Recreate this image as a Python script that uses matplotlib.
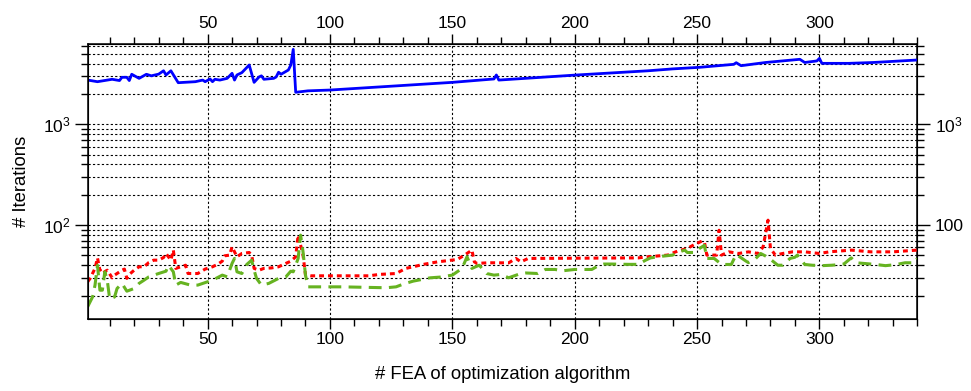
import matplotlib
matplotlib.use("Agg")
import matplotlib.pyplot as plt
from matplotlib.ticker import MultipleLocator, LogLocator, NullFormatter, FixedLocator

plt.rcParams['font.family'] = ['Liberation Sans', 'DejaVu Sans']
plt.rcParams['mathtext.default'] = 'regular'

# ---- data ----
blue_x = [1, 5, 11, 14, 15, 17, 18, 19, 22, 25, 27, 30, 32, 33, 35, 38, 45, 48, 49, 51, 52, 53, 55, 58,
          60, 61, 62, 64, 67, 69, 71, 72, 73, 77, 78, 79, 80, 83, 84, 85, 86, 91, 100, 150, 167, 168,
          169, 200, 230, 240, 251, 265, 266, 268, 278, 292, 294, 299, 300, 301, 312, 322, 340]
blue_y = [2750, 2650, 2800, 2720, 2930, 2930, 2720, 3140, 2860, 3140, 3030, 3150, 3400, 3090, 3400,
          2590, 2650, 2750, 2650, 2820, 2650, 2800, 2750, 2860, 3210, 2750, 3090, 3260, 3880, 2610,
          2950, 3030, 2800, 2860, 2950, 3290, 3140, 3460, 3880, 5550, 2080, 2150, 2190, 2610, 2820,
          3090, 2750, 3080, 3400, 3550, 3680, 3940, 4090, 3820, 4110, 4420, 4110, 4260, 4520, 4030,
          4030, 4110, 4350]

red_x = [1, 2, 4, 5, 6, 7, 8, 9, 11, 12, 13, 15, 16, 17, 18, 20, 22, 24, 26, 28, 30, 32, 33, 35, 36,
         37, 39, 41, 42, 44, 46, 49, 52, 54, 56, 57, 59, 60, 62, 64, 67, 68, 69, 71, 73, 76, 79, 82,
         84, 86, 87, 89, 90, 92, 116, 120, 127, 131, 134, 138, 144, 152, 155, 158, 159, 160, 165,
         173, 176, 178, 181, 226, 230, 238, 242, 246, 249, 252, 253, 254, 258, 259, 260, 263, 267,
         271, 275, 277, 279, 280, 282, 285, 289, 294, 300, 304, 313, 321, 330, 340]
red_y = [27.4, 29.6, 37.2, 47.3, 35.7, 37.2, 34.4, 35.7, 30.0, 31.9, 33.1, 35.7, 36.6, 29.6, 32.4,
         35.7, 38.6, 38.6, 42.6, 44.9, 44.9, 47.7, 52.3, 44.9, 56.5, 37.2, 38.6, 40.0, 33.1, 33.1,
         33.1, 36.6, 38.6, 40.7, 43.9, 49.6, 50.4, 60.9, 48.5, 52.3, 53.5, 50.4, 37.2, 35.7, 37.2,
         37.6, 38.6, 41.7, 43.9, 48.5, 79.6, 50.4, 31.9, 31.4, 31.4, 32.4, 33.1, 37.2, 38.6, 40.7,
         43.2, 45.6, 50.4, 56.5, 43.2, 41.7, 42.3, 42.2, 46.7, 43.2, 46.7, 47.3, 48.5, 50.4, 55.2,
         58.7, 64.3, 69.4, 68.0, 50.4, 50.4, 89.0, 50.4, 54.3, 52.3, 54.3, 52.3, 60.9, 112.0, 58.7,
         50.4, 52.3, 54.3, 54.3, 52.3, 54.3, 56.5, 54.3, 54.3, 56.5]

green_x = [1, 3, 4, 5, 6, 7, 8, 9, 10, 12, 13, 15, 17, 20, 22, 24, 26, 30, 33, 34, 36, 37, 39, 43, 46,
           50, 52, 56, 58, 60, 61, 62, 64, 66, 68, 69, 70, 72, 75, 79, 82, 84, 85, 87, 88, 89, 90, 91,
           105, 123, 127, 130, 134, 141, 145, 150, 154, 156, 158, 161, 164, 167, 170, 173, 178, 180,
           185, 188, 192, 195, 200, 207, 210, 212, 215, 222, 226, 229, 231, 236, 240, 242, 245, 246,
           249, 251, 253, 254, 257, 260, 264, 266, 270, 271, 274, 276, 279, 283, 285, 288, 290, 291,
           294, 297, 301, 305, 308, 310, 313, 315, 319, 323, 327, 331, 335, 339, 340]
green_y = [15.5, 19.4, 25.4, 40.0, 22.6, 22.6, 34.4, 28.4, 18.4, 19.4, 23.5, 26.4, 22.1, 23.5, 26.4,
           28.4, 30.7, 33.1, 34.9, 40.0, 34.4, 25.4, 27.0, 25.4, 25.4, 27.4, 28.4, 31.9, 30.7, 41.7,
           46.7, 34.4, 33.1, 40.7, 44.9, 35.7, 29.6, 25.4, 26.4, 29.6, 30.7, 34.9, 34.4, 46.7, 79.6,
           54.3, 31.9, 24.4, 24.4, 23.9, 24.4, 26.0, 27.8, 30.0, 30.5, 31.9, 37.2, 48.5, 37.2, 40.0,
           33.1, 31.9, 32.4, 30.0, 33.1, 33.5, 33.1, 36.3, 36.3, 35.2, 36.3, 36.3, 40.0, 41.1, 41.1,
           40.8, 40.8, 44.9, 47.3, 49.2, 50.4, 53.5, 56.5, 53.5, 53.5, 58.7, 63.0, 46.7, 46.7, 40.7,
           40.7, 51.2, 43.9, 42.5, 46.7, 52.3, 47.9, 40.0, 40.0, 46.7, 48.0, 50.4, 40.7, 40.0, 39.6,
           40.0, 40.5, 41.1, 47.3, 42.3, 41.5, 40.7, 39.6, 40.5, 42.3, 42.3, 46.7]

x_limits = [1, 340]
y_limits = [11.7, 6340]
x_label = "# FEA of optimization algorithm"
y_label = "# Iterations"

# ---- figure ----
fig = plt.figure(figsize=(9.71, 3.91), dpi=100)
ax = fig.add_axes([0.0903, 0.1841, 0.8544, 0.7046])

ax.plot(blue_x, blue_y, color=(0, 0, 1), lw=2.0, zorder=3)
ax.plot(red_x, red_y, color=(1, 0, 0), lw=2.2, dashes=(1.6, 1.3), zorder=3)
ax.plot(green_x, green_y, color=(0.40, 0.70, 0.13), lw=2.2, dashes=(4.2, 2.4), zorder=3)

ax.set_yscale('log')
ax.set_xlim(x_limits)
ax.set_ylim(y_limits)

ax.xaxis.set_major_locator(MultipleLocator(50))
ax.xaxis.set_minor_locator(MultipleLocator(10))
ax.yaxis.set_major_locator(FixedLocator([100, 1000]))
ax.set_yticklabels(['$10^2$', '$10^3$'])
ax.yaxis.set_minor_locator(LogLocator(base=10, subs=[2, 3, 4, 5, 6, 7, 8, 9], numticks=20))
ax.yaxis.set_minor_formatter(NullFormatter())

ax.grid(which='major', axis='x', color='k', lw=0.8, dashes=(2, 2))
ax.grid(which='both', axis='y', color='k', lw=0.8, dashes=(2, 2))
ax.set_axisbelow(True)

ax.tick_params(which='both', direction='out', top=True, labeltop=True, labelsize=12.5, width=1.0)
ax.tick_params(axis='x', which='major', length=7, pad=2)
ax.tick_params(axis='x', which='minor', length=4.8)
ax.tick_params(axis='y', which='major', length=9.5, pad=3)
ax.tick_params(axis='y', which='minor', length=4.8)
for s in ax.spines.values():
    s.set_linewidth(1.1)

ax2 = ax.twinx()
ax2.set_yscale('log')
ax2.set_ylim(y_limits)
ax2.yaxis.set_major_locator(FixedLocator([100, 1000]))
ax2.set_yticklabels(['100', '$10^3$'])
ax2.yaxis.set_minor_locator(LogLocator(base=10, subs=[2, 3, 4, 5, 6, 7, 8, 9], numticks=20))
ax2.yaxis.set_minor_formatter(NullFormatter())
ax2.tick_params(which='both', direction='out', labelsize=12.5, width=1.0)
ax2.tick_params(which='major', length=9.5, pad=3)
ax2.tick_params(which='minor', length=4.8)

ax.set_xlabel(x_label, fontsize=13.3, labelpad=14)
ax.set_ylabel(y_label, fontsize=13.3, labelpad=9)

fig.savefig("out.png", dpi=100)
